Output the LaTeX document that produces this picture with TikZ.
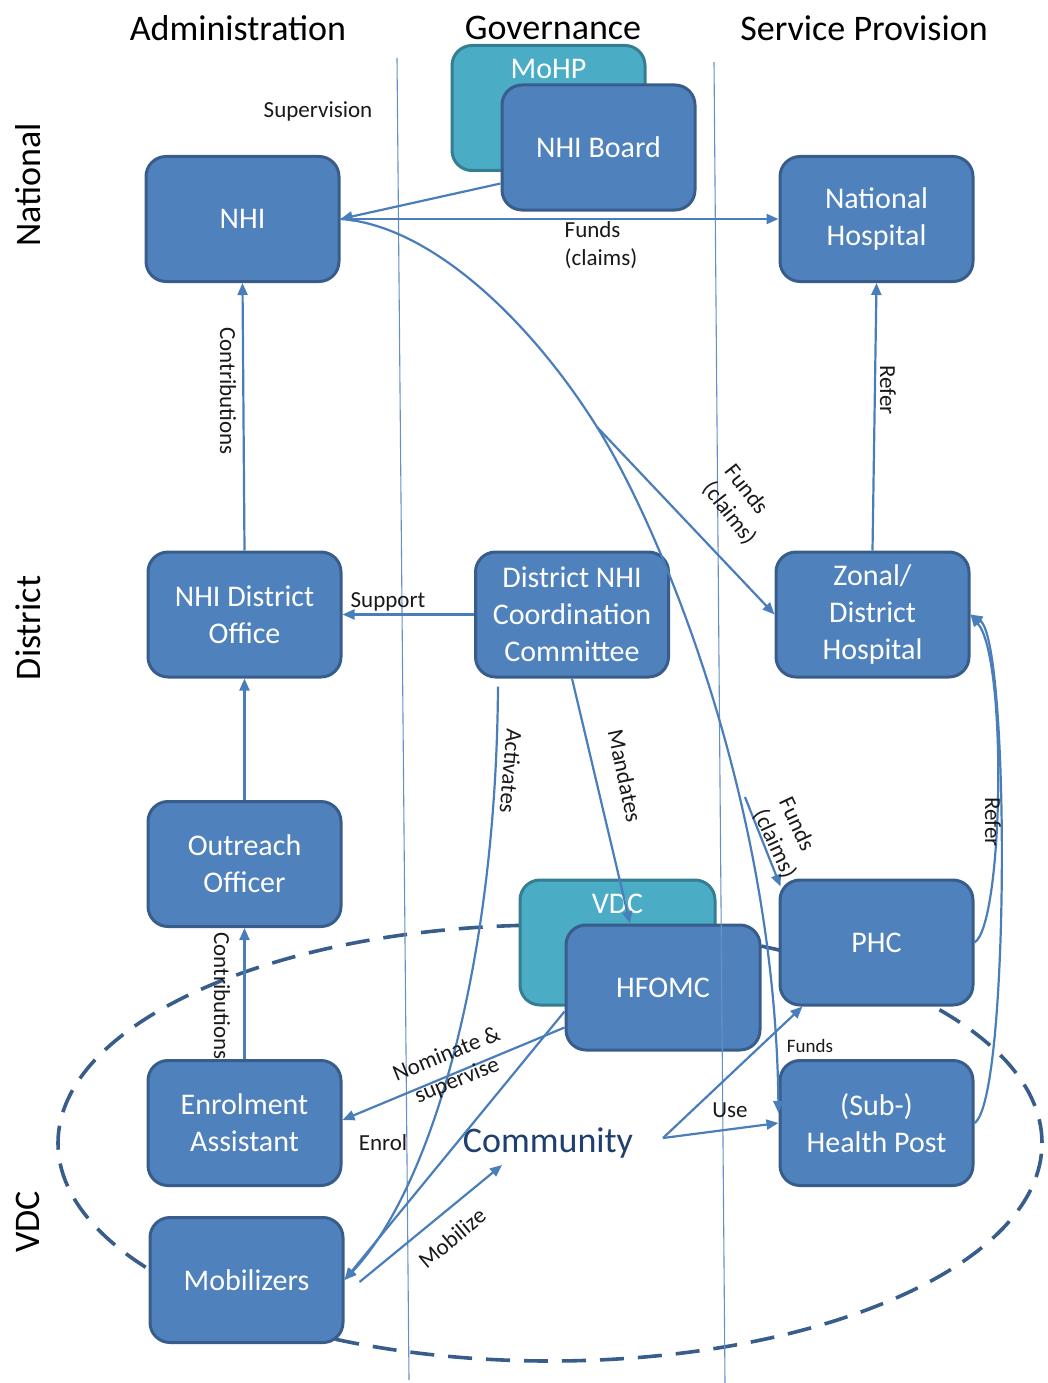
\documentclass[tikz,border=0pt]{standalone}
\usepackage{fontspec}
\setmainfont{Carlito}
\usetikzlibrary{arrows.meta,calc}
\definecolor{boxfill}{HTML}{4F81BD}
\definecolor{boxborder}{HTML}{385D8A}
\definecolor{tealfill}{HTML}{4BACC6}
\definecolor{tealborder}{HTML}{357D91}
\definecolor{arrcol}{HTML}{4A7EBB}
\definecolor{ellcol}{HTML}{385D8A}
\definecolor{commcol}{HTML}{1F3F6E}
\tikzset{
  bluebox/.style={rounded corners=20pt, fill=boxfill, draw=boxborder, line width=3pt,
    text=white, align=center, minimum width=193pt, minimum height=125pt, inner sep=2pt,
    font=\fontsize{30}{37}\selectfont},
  tealbox/.style={bluebox, fill=tealfill, draw=tealborder},
  arr/.style={draw=arrcol, line width=2.2pt, -{Triangle[length=12pt,width=10pt]}},
  plainline/.style={draw=arrcol, line width=2.2pt},
  elabel/.style={font=\fontsize{23}{28}\selectfont, text=black!90, inner sep=1pt},
  header/.style={font=\fontsize{36}{42}\selectfont, text=black},
  vline/.style={draw=arrcol!85, line width=1.1pt},
  ell/.style={draw=ellcol, line width=3.6pt, dash pattern=on 24pt off 14pt}
}
\begin{document}
\begin{tikzpicture}[x=1pt,y=-1pt]
\useasboundingbox (0,0) rectangle (1047,1383);

% headers
\node[header] (hadm) at (238,28) {Administration};
\node[header] (hgov) at (553,28) {Governance};
\node[header] (hsp) at (864,28) {Service Provision};
\node[header, rotate=90] (rnat) at (28,185) {National};
\node[header, rotate=90] (rdis) at (28,628) {District};
\node[header, rotate=90] (rvdc) at (28,1222) {VDC};

% dashed ellipse
\draw[ell] (550,1143) ellipse [x radius=492pt, y radius=218pt];

% boxes
\node[tealbox] (mohp) at (548.5,108) {};
\node[font=\fontsize{30}{37}\selectfont, text=white] (mohptxt) at ([yshift=-25pt]mohp.north) {MoHP};
\node[bluebox] (nhiboard) at (598.5,147.5) {NHI Board};
\node[bluebox] (nhi) at (242.5,219) {NHI};
\node[bluebox] (nathosp) at (876.5,219) {National\\Hospital};
\node[bluebox] (nhido) at (244.5,614.5) {NHI District\\Office};
\node[bluebox] (dncc) at (572,614.5) {District NHI\\Coordination\\Committee};
\node[bluebox] (zonal) at (872.5,614.5) {Zonal/\\District\\Hospital};
\node[bluebox] (outreach) at (244.5,864) {Outreach\\Officer};
\node[tealbox, minimum width=195pt] (vdc) at (617.5,942.5) {};
\node[font=\fontsize{30}{37}\selectfont, text=white] (vdctxt) at ([yshift=-25pt]vdc.north) {VDC};
\node[bluebox, minimum width=194pt] (hfomc) at (663,987.5) {HFOMC};
\node[bluebox] (phc) at (876.5,942.5) {PHC};
\node[bluebox] (enrol) at (244.5,1123) {Enrolment\\Assistant};
\node[bluebox] (shp) at (876.5,1123) {(Sub-)\\Health Post};
\node[bluebox] (mob) at (246.5,1280) {Mobilizers};
\node[font=\fontsize{36}{42}\selectfont, text=commcol] (community) at (548,1143) {Community};

% thin vertical separators
\draw[vline] (397,58) -- (409,1380);
\draw[vline] (714,62) -- (725,1383);

% connectors
\draw[arr] ([yshift=-36pt]nhiboard.west) -- (nhi.east);
\draw[arr] (nhi.east) -- (nathosp.west);
\coordinate (fundsplit) at (597,427);
\draw[plainline] (nhi.east) .. controls (430,225) and (530,320) .. (fundsplit);
\draw[arr] (fundsplit) -- (zonal.west);
\draw[arr] (fundsplit) .. controls (660,528) and (775,800) .. ([yshift=10pt]shp.west);
\coordinate (fsplit) at (745,797);
\draw[arr] (fsplit) -- ([shift={(2pt,-8pt)}]phc.north west);
\draw[arr] (nhido.north) -- (nhi.south);
\draw[arr] (dncc.west) -- (nhido.east);
\draw[arr] (zonal.north) -- (nathosp.south);
\draw[arr] (outreach.north) -- (nhido.south);
\draw[arr] (enrol.north) -- (outreach.south);
\draw[arr] (dncc.south) -- ([xshift=-33pt]hfomc.north);
\draw[arr] ([shift={(-74pt,-8pt)}]dncc.south) .. controls (496,970) and (430,1190) .. (mob.east);
\draw[arr] ([yshift=-40pt]hfomc.west) -- ([yshift=3pt]enrol.east);
\draw[arr] ([yshift=-24pt]hfomc.west) -- (mob.east);
\coordinate (commin) at (502,1165);
\draw[arr] ([shift={(15pt,-2pt)}]mob.east) -- (commin);
\coordinate (usefork) at (663,1138);
\draw[arr] (usefork) -- ([xshift=-74pt]phc.south);
\draw[arr] (usefork) -- (shp.west);
\draw[arr] (phc.east) .. controls (1003,925) and (1008,660) .. (zonal.east);
\draw[arr] (shp.east) .. controls (1010,1100) and (1010,640) .. (zonal.east);

% labels
\node[elabel] (lsup) at (318,111) {Supervision};
\node[elabel, align=left] (lfund1) at (601,245) {Funds\\(claims)};
\node[elabel, align=left, rotate=-52] (lfund2) at (740,505) {Funds\\(claims)};
\node[elabel, align=left, rotate=-65] (lfund3) at (787,838) {Funds\\(claims)};
\node[elabel, rotate=-90] (lcon1) at (228,391) {Contributions};
\node[elabel] (lsupport) at (388,602) {Support};
\node[elabel, rotate=-90] (lref1) at (888,390) {Refer};
\node[elabel, rotate=-95] (lact) at (511,771) {Activates};
\node[elabel, rotate=-78] (lman) at (625,776) {Mandates};
\node[elabel, rotate=-90] (lcon2) at (222,996) {Contributions};
\node[elabel, align=center, rotate=22] (lnom) at (452,1068) {Nominate \&\\supervise};
\node[elabel] (lenrol) at (383,1143) {Enrol};
\node[elabel] (luse) at (730,1110) {Use};
\node[elabel, font=\fontsize{19}{23}\selectfont] (lfund4) at (810,1046) {Funds};
\node[elabel, rotate=40] (lmob) at (452,1238) {Mobilize};
\node[elabel, rotate=-90] (lref2) at (993,822) {Refer};
\end{tikzpicture}
\end{document}
